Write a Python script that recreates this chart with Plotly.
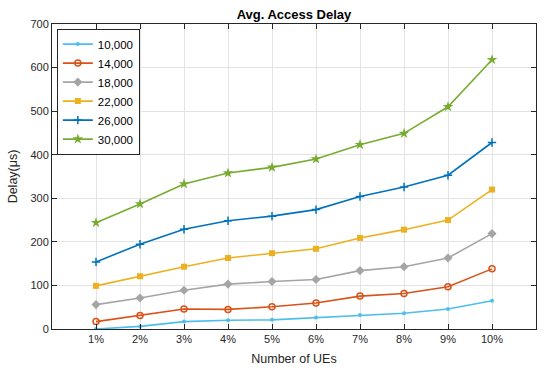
import plotly.graph_objects as go

categories = ["1%", "2%", "3%", "4%", "5%", "6%", "7%", "8%", "9%", "10%"]
series_names = ["10,000", "14,000", "18,000", "22,000", "26,000", "30,000"]
s10000 = [0, 6, 17, 20, 21, 26.5, 32, 36, 46, 65]
s14000 = [17, 31, 46, 45, 51, 59.5, 75.5, 81.5, 97, 138]
s18000 = [56, 71, 89, 103, 109, 113.5, 134, 143, 163, 219]
s22000 = [99, 121, 143, 163, 174, 184, 209, 228, 250, 320]
s26000 = [154, 194.5, 229, 248.5, 259, 274, 304, 326, 353, 428]
s30000 = [244, 287, 333, 358, 371, 390, 423, 449, 510, 618]
y_ticks = [0, 100, 200, 300, 400, 500, 600, 700]

all_series = [s10000, s14000, s18000, s22000, s26000, s30000]
colors = ["#4DBEEE", "#D95319", "#A5A5A5", "#EDB120", "#0072BD", "#77AC30"]
markers = [
    dict(symbol="circle", size=4),
    dict(symbol="circle-open", size=6, line=dict(width=1.5)),
    dict(symbol="diamond", size=7),
    dict(symbol="square", size=6),
    dict(symbol="cross-thin", size=6, line=dict(width=1.5)),
    dict(symbol="star", size=8),
]

xpos = list(range(1, len(categories) + 1))
FONT = "Liberation Sans, Arial, sans-serif"

fig = go.Figure()
for name, vals, col, mk in zip(series_names, all_series, colors, markers):
    m = dict(mk)
    m["color"] = col
    if "line" in m:
        m["line"] = dict(m["line"], color=col)
    fig.add_trace(go.Scatter(
        x=xpos, y=vals, name=name, mode="lines+markers",
        line=dict(color=col, width=1.6), marker=m,
    ))

axis_common = dict(
    showline=True, linecolor="#262626", linewidth=1, mirror="ticks",
    ticks="inside", ticklen=5, tickcolor="#262626",
    showgrid=True, gridcolor="#E3E3E3", gridwidth=1, zeroline=False,
    automargin=False,
    tickfont=dict(family=FONT, size=11, color="#262626"),
)

fig.update_layout(
    width=550, height=372,
    margin=dict(l=52, r=14, t=24, b=43),
    paper_bgcolor="white", plot_bgcolor="white",
    title=dict(text="<b>Avg. Access Delay</b>", x=0.5, xanchor="center",
               xref="paper", y=1 - 14 / 372, yanchor="middle",
               font=dict(family=FONT, size=13, color="#000000")),
    xaxis=dict(axis_common, range=[0, 11], tickmode="array", tickvals=xpos,
               ticktext=categories,
               title=dict(text="Number of UEs", standoff=10,
                          font=dict(family=FONT, size=12.5, color="#262626"))),
    yaxis=dict(axis_common, range=[0, 700], tickmode="array", tickvals=y_ticks,
               title=dict(text="Delay(μs)", standoff=10,
                          font=dict(family=FONT, size=12.5, color="#262626"))),
    legend=dict(x=0.01, y=0.985, xanchor="left", yanchor="top",
                bordercolor="#262626", borderwidth=1, bgcolor="white",
                font=dict(family=FONT, size=11.5, color="#000000"),
                tracegroupgap=0, itemwidth=30),
    showlegend=True,
)

fig.write_html("out.html", config={"displayModeBar": False},
               post_script="document.body.style.margin='0';")
